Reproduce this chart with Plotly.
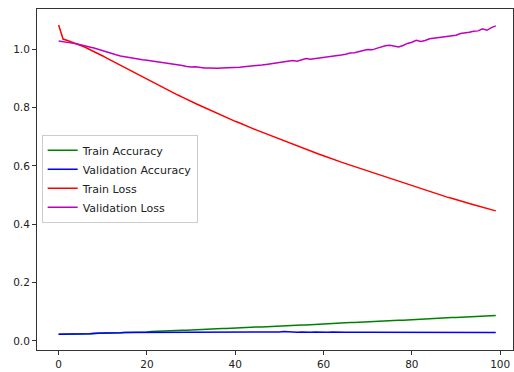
import plotly.graph_objects as go

epochs = list(range(100))

train_acc = [0.023, 0.023, 0.023, 0.024, 0.024, 0.024, 0.025, 0.025, 0.025, 0.026,
             0.026, 0.027, 0.027, 0.028, 0.028, 0.029, 0.029, 0.030, 0.030, 0.031,
             0.031, 0.032, 0.033, 0.033, 0.034, 0.035, 0.035, 0.036, 0.037, 0.037,
             0.038, 0.039, 0.039, 0.040, 0.041, 0.041, 0.042, 0.043, 0.043, 0.044,
             0.044, 0.045, 0.046, 0.046, 0.047, 0.048, 0.048, 0.049, 0.050, 0.050,
             0.051, 0.052, 0.052, 0.053, 0.054, 0.055, 0.055, 0.056, 0.057, 0.057,
             0.058, 0.059, 0.060, 0.060, 0.061, 0.062, 0.063, 0.063, 0.064, 0.065,
             0.066, 0.066, 0.067, 0.068, 0.068, 0.069, 0.070, 0.071, 0.071, 0.072,
             0.073, 0.074, 0.074, 0.075, 0.076, 0.077, 0.077, 0.078, 0.079, 0.080,
             0.080, 0.081, 0.082, 0.083, 0.083, 0.084, 0.085, 0.086, 0.086, 0.087]

val_acc = [0.023, 0.023, 0.023, 0.024, 0.024, 0.024, 0.025, 0.025, 0.026, 0.026,
           0.027, 0.027, 0.028, 0.028, 0.028, 0.029, 0.029, 0.029, 0.030, 0.030,
           0.030, 0.030, 0.031, 0.031, 0.031, 0.031, 0.031, 0.031, 0.031, 0.031,
           0.031, 0.031, 0.031, 0.031, 0.031, 0.030, 0.031, 0.031, 0.031, 0.030,
           0.031, 0.031, 0.030, 0.031, 0.031, 0.031, 0.030, 0.031, 0.031, 0.031,
           0.031, 0.032, 0.031, 0.031, 0.030, 0.031, 0.030, 0.030, 0.031, 0.030,
           0.030, 0.030, 0.031, 0.030, 0.030, 0.030, 0.030, 0.031, 0.030, 0.030,
           0.030, 0.030, 0.030, 0.029, 0.030, 0.030, 0.030, 0.030, 0.029, 0.030,
           0.030, 0.029, 0.030, 0.029, 0.030, 0.029, 0.029, 0.028, 0.029, 0.029,
           0.029, 0.030, 0.029, 0.029, 0.029, 0.029, 0.029, 0.029, 0.029, 0.029]

train_loss = [1.083, 1.035, 1.030, 1.025, 1.019, 1.013, 1.007, 1.000, 0.993, 0.985,
              0.977, 0.969, 0.961, 0.953, 0.945, 0.937, 0.929, 0.921, 0.913, 0.905,
              0.897, 0.889, 0.881, 0.873, 0.866, 0.858, 0.851, 0.843, 0.836, 0.828,
              0.821, 0.814, 0.807, 0.800, 0.793, 0.786, 0.779, 0.773, 0.766, 0.760,
              0.753, 0.747, 0.740, 0.734, 0.728, 0.722, 0.716, 0.710, 0.704, 0.698,
              0.692, 0.686, 0.680, 0.674, 0.668, 0.663, 0.657, 0.651, 0.646, 0.640,
              0.635, 0.629, 0.624, 0.619, 0.613, 0.608, 0.603, 0.598, 0.593, 0.588,
              0.583, 0.578, 0.573, 0.568, 0.563, 0.558, 0.553, 0.547, 0.542, 0.537,
              0.532, 0.527, 0.522, 0.516, 0.511, 0.506, 0.502, 0.497, 0.493, 0.489,
              0.484, 0.480, 0.476, 0.471, 0.467, 0.463, 0.459, 0.454, 0.450, 0.446]

val_loss = [1.028, 1.025, 1.023, 1.021, 1.019, 1.016, 1.012, 1.008, 1.004, 0.999,
            0.995, 0.990, 0.986, 0.981, 0.977, 0.974, 0.971, 0.969, 0.966, 0.964,
            0.962, 0.960, 0.957, 0.955, 0.952, 0.951, 0.949, 0.947, 0.944, 0.941,
            0.939, 0.940, 0.937, 0.936, 0.936, 0.935, 0.935, 0.936, 0.936, 0.937,
            0.937, 0.938, 0.940, 0.941, 0.943, 0.945, 0.946, 0.948, 0.950, 0.951,
            0.953, 0.956, 0.957, 0.961, 0.959, 0.963, 0.968, 0.966, 0.968, 0.969,
            0.970, 0.972, 0.975, 0.978, 0.980, 0.983, 0.987, 0.988, 0.993, 0.996,
            0.999, 0.998, 1.003, 1.008, 1.012, 1.014, 1.010, 1.008, 1.013, 1.020,
            1.024, 1.031, 1.027, 1.030, 1.036, 1.038, 1.040, 1.041, 1.044, 1.046,
            1.048, 1.054, 1.055, 1.058, 1.062, 1.063, 1.070, 1.065, 1.074, 1.080]

series = [
    ("Train Accuracy", train_acc, "#008000"),
    ("Validation Accuracy", val_acc, "#0000ff"),
    ("Train Loss", train_loss, "#ff0000"),
    ("Validation Loss", val_loss, "#bf00bf"),
]

x_ticks = [0, 20, 40, 60, 80, 100]
y_ticks = [0.0, 0.2, 0.4, 0.6, 0.8, 1.0]
y_tick_text = ["0.0", "0.2", "0.4", "0.6", "0.8", "1.0"]

fig = go.Figure()
for name, vals, color in series:
    fig.add_trace(go.Scatter(x=epochs, y=vals, mode="lines", name=name,
                             line=dict(color=color, width=1.5)))

axis_common = dict(showline=True, linecolor="#333333", linewidth=1, mirror=True,
                   ticks="outside", ticklen=4, tickwidth=1, tickcolor="#333333",
                   showgrid=False, zeroline=False, automargin=False,
                   tickfont=dict(family="DejaVu Sans", size=10.5, color="#222222"))

fig.update_layout(
    width=514, height=372,
    margin=dict(l=37, r=1, t=9, b=22),
    paper_bgcolor="white", plot_bgcolor="white",
    font=dict(family="DejaVu Sans", size=10, color="#000000"),
    xaxis=dict(range=[-4.9, 102.9], tickvals=x_ticks, **axis_common),
    yaxis=dict(range=[-0.031, 1.138], tickvals=y_ticks, ticktext=y_tick_text, **axis_common),
    legend=dict(x=0.0098, y=0.502, xanchor="left", yanchor="middle",
                bgcolor="rgba(255,255,255,0.8)", bordercolor="#cccccc", borderwidth=1,
                itemwidth=30, font=dict(family="DejaVu Sans", size=11, color="#222222")),
    showlegend=True,
)

fig.write_html("out.html",
               config={"displayModeBar": False},
               post_script="document.body.style.margin='0';document.body.style.overflow='hidden';")
